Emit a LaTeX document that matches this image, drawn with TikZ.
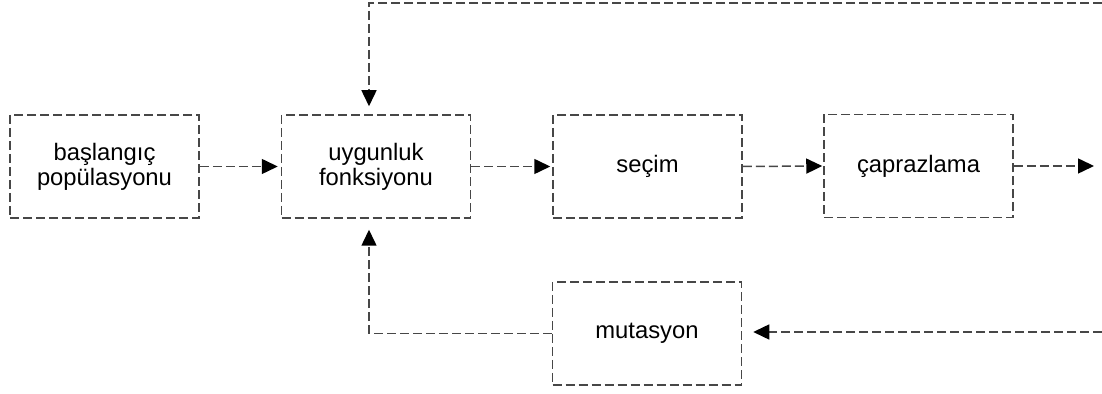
\documentclass[tikz,border=0pt]{standalone}
\usepackage{fontspec}
\setmainfont{Liberation Sans}
\usetikzlibrary{arrows.meta}
\begin{document}
\begin{tikzpicture}[x=0.5pt,y=-0.5pt,
  stepbox/.style={draw=black!72, line width=0.75pt, dash pattern=on 4.5pt off 2pt,
    minimum width=94.5pt, minimum height=51.5pt, inner sep=0pt,
    align=center, font=\fontsize{11.9pt}{12.6pt}\selectfont},
  flow/.style={draw=black!72, line width=0.75pt, dash pattern=on 4.5pt off 2pt,
    -{Triangle[length=8pt,width=7.5pt,color=black]}}]
  \useasboundingbox (0,0) rectangle (1102,394);

  % process boxes
  \node[stepbox] (init) at (104.5,166.5) {başlangıç\\popülasyonu};
  \node[stepbox] (fit)  at (376,166.5)   {uygunluk\\fonksiyonu};
  \node[stepbox] (sel)  at (647.5,166.5) {seçim};
  \node[stepbox] (cross) at (918.5,166)  {çaprazlama};
  \node[stepbox] (mut)  at (647,333.5)   {mutasyon};

  % loose ends running off the right side
  \coordinate (outmid) at (1094,166);
  \coordinate (backtop) at (1102,3);
  \coordinate (backbot) at (1102,332);

  % main flow
  \draw[flow, shorten >=1.5pt] (init.east) -- (fit.west);
  \draw[flow, shorten >=1pt] (fit.east) -- (sel.west);
  \draw[flow, shorten >=0.5pt] (sel.east) -- (cross.west);
  \draw[flow] (cross.east) -- (outmid);

  % feedback loops
  \draw[flow, shorten >=4pt] (backtop) -| ([xshift=-3.5pt]fit.north);
  \draw[flow, shorten >=5.5pt] (backbot) -- (backbot -| mut.east);
  \draw[flow, shorten >=5.5pt] (mut.west) -| ([xshift=-3.5pt]fit.south);
\end{tikzpicture}
\end{document}
